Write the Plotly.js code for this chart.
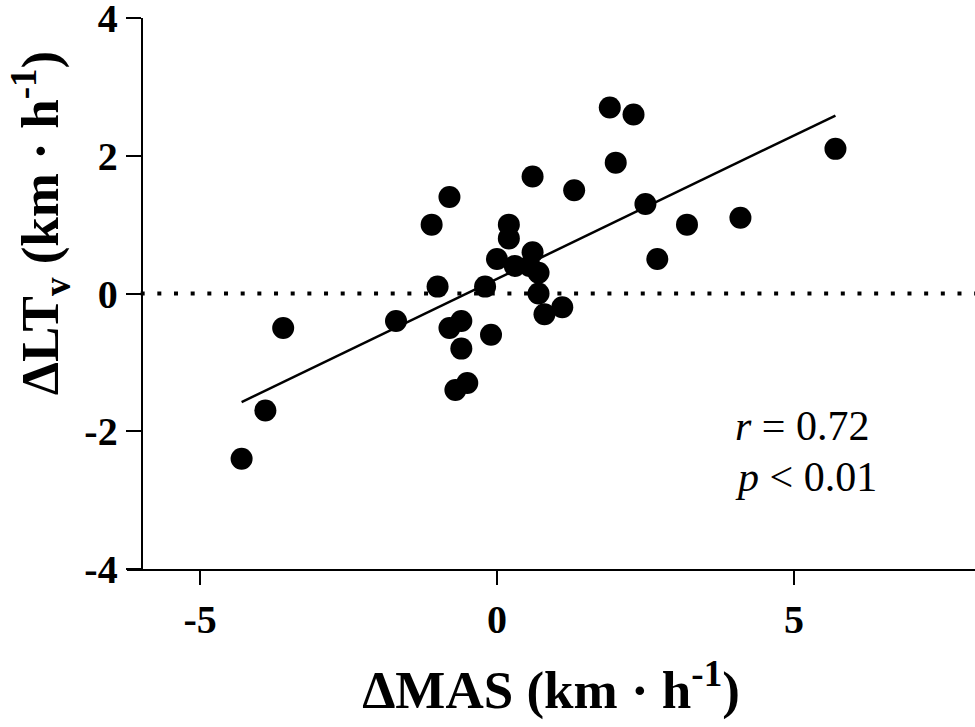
<!DOCTYPE html>
<html>
<head>
<meta charset="utf-8">
<script src="https://cdn.plot.ly/plotly-3.0.1.min.js"></script>
<style>html,body{margin:0;padding:0;background:#fff;}#chart{width:975px;height:727px;}</style>
</head>
<body>
<div id="chart"></div>
<script>
// ΔMAS (km·h-1) values
const deltaMAS = [-4.3, -3.9, -3.6, -1.7, -1.1, -0.8, -1.0, -0.8, -0.6, -0.6, -0.7, -0.5, -0.2, -0.1,
  0.0, 0.2, 0.2, 0.3, 0.55, 0.6, 0.6, 0.7, 0.7, 0.8, 1.1, 1.3, 1.9, 2.3, 2.0, 2.5, 2.7, 3.2, 4.1, 5.7];
// ΔLTv (km·h-1) values
const deltaLTv = [-2.4, -1.7, -0.5, -0.4, 1.0, 1.4, 0.1, -0.5, -0.4, -0.8, -1.4, -1.3, 0.1, -0.6,
  0.5, 1.0, 0.8, 0.4, 0.4, 1.7, 0.6, 0.3, 0.0, -0.3, -0.2, 1.5, 2.7, 2.6, 1.9, 1.3, 0.5, 1.0, 1.1, 2.1];
// regression line
const fitSlope = 0.416;
const fitIntercept = 0.213;
const xTicks = [-5, 0, 5];
const yTicks = [-4, -2, 0, 2, 4];
const statsText = ['<i>r</i> = 0.72', '<i>p</i> &lt; 0.01'];

const xmin = Math.min(...deltaMAS), xmax = Math.max(...deltaMAS);
const fitX = [xmin, xmax];
const fitY = fitX.map(v => fitIntercept + fitSlope * v);

const serif = 'Liberation Serif, Times New Roman, serif';

const traces = [
  {x: fitX, y: fitY, mode: 'lines', type: 'scatter', line: {color: '#000', width: 2.5}, hoverinfo: 'skip', showlegend: false},
  {x: deltaMAS, y: deltaLTv, mode: 'markers', type: 'scatter', marker: {color: '#000', size: 22}, showlegend: false}
];

const statsY = [-1.92, -2.66];
const statsAnnotations = statsText.map((t, i) => ({
  xref: 'x', yref: 'y', x: 3.97, y: statsY[i], xanchor: 'left', yanchor: 'middle', align: 'left',
  showarrow: false, text: t, font: {family: serif, size: 42, color: '#000'}
}));

const layout = {
  width: 975, height: 727,
  margin: {l: 127, r: 0, t: 18, b: 158},
  paper_bgcolor: '#fff', plot_bgcolor: '#fff',
  showlegend: false,
  xaxis: {
    range: [-6.23, 8.05], tickvals: xTicks, ticktext: xTicks.map(v => '<b>' + v + '</b>'),
    showgrid: false, zeroline: false, showline: true, linecolor: '#000', linewidth: 2,
    ticks: 'outside', ticklen: 14, tickwidth: 2, tickcolor: '#000',
    tickfont: {family: serif, size: 40, color: '#000', weight: 'bold'},
    title: {text: '<b>ΔMAS (km · h<sup>-1</sup>)</b>', font: {family: serif, size: 53, color: '#000'}, standoff: 30},
    automargin: false
  },
  yaxis: {
    range: [-4, 4], tickvals: yTicks, ticktext: yTicks.map(v => '<b>' + v + '</b>'),
    anchor: 'free', position: 0.0173, ticklabeloverflow: 'allow',
    showgrid: false, zeroline: false, showline: true, linecolor: '#000', linewidth: 2,
    ticks: 'outside', ticklen: 15, tickwidth: 2, tickcolor: '#000',
    tickfont: {family: serif, size: 40, color: '#000', weight: 'bold'},
    automargin: false
  },
  shapes: [
    {type: 'line', xref: 'x', yref: 'y', x0: -6, x1: 8.05, y0: 0, y1: 0,
     line: {color: '#000', width: 4, dash: '4px,12.67px'}}
  ],
  annotations: [
    {xref: 'paper', yref: 'paper', x: -0.103, y: 0.627, xanchor: 'center', yanchor: 'middle', textangle: -90,
     showarrow: false, text: '<b>ΔLT<sub>v</sub> (km · h<sup>-1</sup>)</b>',
     font: {family: serif, size: 53, color: '#000'}}
  ].concat(statsAnnotations)
};

Plotly.newPlot('chart', traces, layout, {displayModeBar: false, staticPlot: true});
</script>
</body>
</html>
